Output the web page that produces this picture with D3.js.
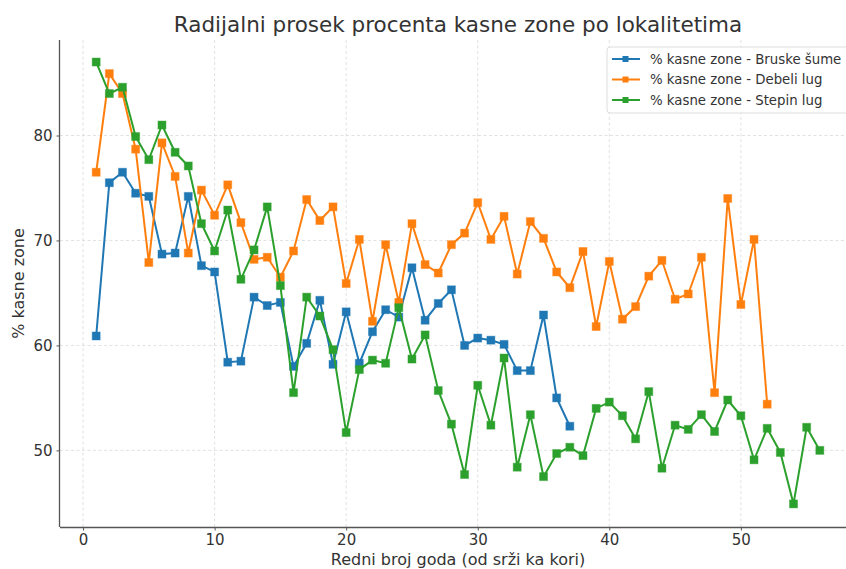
<!DOCTYPE html>
<html><head><meta charset="utf-8">
<script src="https://cdn.jsdelivr.net/npm/d3@7"></script>
<style>body{margin:0;background:#fff}svg{display:block}text{font-family:"DejaVu Sans",sans-serif}</style>
</head><body><svg id="c" width="846" height="569"></svg>
<script>
const seriesNames = ["% kasne zone - Bruske šume","% kasne zone - Debeli lug","% kasne zone - Stepin lug"];
const colors = ["#1f77b4","#ff7f0e","#2ca02c"];
const bruske = [60.9,75.5,76.5,74.5,74.2,68.7,68.8,74.2,67.6,67.0,58.4,58.5,64.6,63.8,64.1,58.0,60.2,64.3,58.2,63.2,58.3,61.3,63.4,62.7,67.4,62.4,64.0,65.3,60.0,60.7,60.5,60.1,57.6,57.6,62.9,55.0,52.3];
const debeli = [76.5,85.9,84.0,78.7,67.9,79.3,76.1,68.8,74.8,72.4,75.3,71.7,68.2,68.4,66.5,69.0,73.9,71.9,73.2,65.9,70.1,62.3,69.6,64.1,71.6,67.7,66.9,69.6,70.7,73.6,70.1,72.3,66.8,71.8,70.2,67.0,65.5,68.95,61.8,68.0,62.5,63.7,66.6,68.1,64.4,64.9,68.4,55.5,74.0,63.9,70.1,54.4];
const stepin = [87.0,84.0,84.6,79.9,77.7,81.0,78.4,77.1,71.6,69.0,72.9,66.3,69.1,73.2,65.7,55.5,64.6,62.8,59.6,51.7,57.7,58.6,58.3,63.6,58.7,61.0,55.7,52.5,47.7,56.2,52.4,58.8,48.4,53.4,47.5,49.7,50.3,49.5,54.0,54.6,53.3,51.1,55.6,48.3,52.4,52.0,53.4,51.8,54.8,53.3,49.1,52.1,49.8,44.9,52.2,50.0];
const xTicks = [0,10,20,30,40,50];
const yTicks = [50,60,70,80];
const allSeries = [bruske, debeli, stepin];

const svg = d3.select("#c");
const L = 60, R = 856, T = 40, B = 527;
const x = d3.scaleLinear().domain([-1.75, 58.75]).range([L, R]);
const y = d3.scaleLinear().domain([42.7, 89.1]).range([B, T]);

// grid
const g = svg.append("g");
g.selectAll(".gx").data(xTicks).enter().append("line")
  .attr("x1", d=>x(d)).attr("x2", d=>x(d)).attr("y1", T).attr("y2", B)
  .attr("stroke", "#d9d9d9").attr("stroke-width", 0.8).attr("stroke-dasharray", "3,2.5");
g.selectAll(".gy").data(yTicks).enter().append("line")
  .attr("x1", L).attr("x2", R).attr("y1", d=>y(d)).attr("y2", d=>y(d))
  .attr("stroke", "#d9d9d9").attr("stroke-width", 0.8).attr("stroke-dasharray", "3,2.5");

// axes
const xAxis = svg.append("g").attr("transform", `translate(0,${B})`)
  .call(d3.axisBottom(x).tickValues(xTicks).tickSize(3.5).tickPadding(4).tickFormat(d3.format("d")));
const yAxis = svg.append("g").attr("transform", `translate(${L},0)`)
  .call(d3.axisLeft(y).tickValues(yTicks).tickSize(3.5).tickPadding(4).tickFormat(d3.format("d")));
[xAxis, yAxis].forEach(a => {
  a.select(".domain").attr("stroke", "#555").attr("stroke-width", 1.3);
  a.selectAll(".tick line").attr("stroke", "#555");
  a.selectAll(".tick text").attr("fill", "#333").style("font-size", "15px").style("font-family", "DejaVu Sans");
});
xAxis.select(".domain").attr("d", `M${L},0.5H${R}`);
yAxis.select(".domain").attr("d", `M-0.5,${T}V${B}`);

// lines
const line = d3.line().x((d,i)=>x(i+1)).y(d=>y(d));
allSeries.forEach((s, k) => {
  svg.append("path").datum(s).attr("d", line).attr("fill", "none")
    .attr("stroke", colors[k]).attr("stroke-width", 2);
  svg.append("g").selectAll("rect").data(s).enter().append("rect")
    .attr("x", (d,i)=>x(i+1)-4).attr("y", d=>y(d)-4).attr("width", 8).attr("height", 8)
    .attr("fill", colors[k]).attr("stroke", colors[k]).attr("stroke-opacity", 0.4).attr("stroke-width", 1);
});

// title & labels
svg.append("text").attr("x", (L+R)/2).attr("y", 32).attr("text-anchor", "middle")
  .style("font-size", "21.5px").attr("fill", "#333").text("Radijalni prosek procenta kasne zone po lokalitetima");
svg.append("text").attr("x", (L+R)/2).attr("y", 565).attr("text-anchor", "middle")
  .style("font-size", "16px").attr("fill", "#333").text("Redni broj goda (od srži ka kori)");
svg.append("text").attr("transform", `translate(24,${(T+B)/2}) rotate(-90)`).attr("text-anchor", "middle")
  .style("font-size", "16px").attr("fill", "#333").text("% kasne zone");

// legend
const lg = svg.append("g").attr("transform", "translate(607,47)");
lg.append("rect").attr("x", 0).attr("y", 0).attr("width", 245).attr("height", 66).attr("rx", 3)
  .attr("fill", "#fff").attr("fill-opacity", 0.85).attr("stroke", "#ddd");
seriesNames.forEach((n, k) => {
  const yy = 12 + k*20.5;
  lg.append("line").attr("x1", 5).attr("x2", 33).attr("y1", yy).attr("y2", yy).attr("stroke", colors[k]).attr("stroke-width", 2);
  lg.append("rect").attr("x", 15.5).attr("y", yy-3).attr("width", 6).attr("height", 6).attr("fill", colors[k]);
  lg.append("text").attr("x", 43).attr("y", yy+4.5).style("font-size", "13.3px").attr("fill", "#333").text(n);
});
</script></body></html>
